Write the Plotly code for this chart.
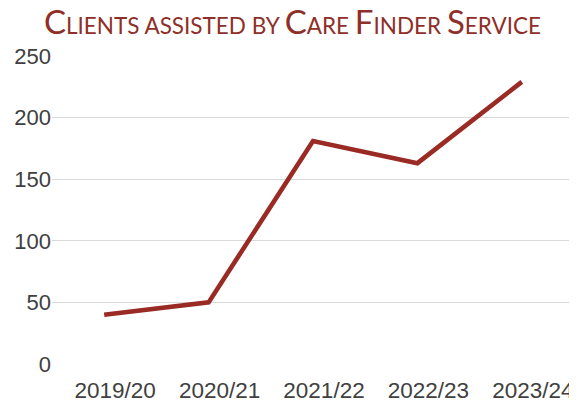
import plotly.graph_objects as go

years = ["2019/20", "2020/21", "2021/22", "2022/23", "2023/24"]
clients = [40, 50, 181, 163, 229]
y_ticks = [0, 50, 100, 150, 200, 250]

TITLE_COLOR = "#8E2F29"
LINE_COLOR = "#9A2A24"

# the page body adds an 8px margin; compensate so the figure fills the window
PAGE_OFFSET = 8
W, H = 577 - PAGE_OFFSET, 405 - PAGE_OFFSET

def small_caps(text, big=33):
    out = []
    for word in text.split(" "):
        first, rest = word[0], word[1:]
        if first.isupper():
            out.append(f'<span style="font-size:{big}px">{first}</span>{rest.upper()}')
        else:
            out.append(word.upper())
    return " ".join(out)

title_text = small_caps("Clients assisted by Care Finder Service")

fig = go.Figure(
    go.Scatter(
        x=years,
        y=clients,
        mode="lines",
        line=dict(color=LINE_COLOR, width=4.6),
        hoverinfo="skip",
    )
)

fig.update_layout(
    width=W,
    height=H,
    margin=dict(l=52 - PAGE_OFFSET, r=3, t=56 - PAGE_OFFSET, b=41),
    paper_bgcolor="white",
    plot_bgcolor="white",
    showlegend=False,
    title=dict(
        text=title_text,
        font=dict(family="Lato", size=22.5, color=TITLE_COLOR),
        x=0.5,
        xanchor="center",
        xref="container",
        y=1 - 18 / H,
        yanchor="middle",
        yref="container",
    ),
)

fig.update_xaxes(
    type="category",
    range=[-0.5, 4.5],
    showgrid=False,
    showline=False,
    zeroline=False,
    ticks="",
    tickfont=dict(family="Liberation Sans", size=22.5, color="#404040"),
    ticklabelshift=11,
    ticklabelstandoff=10,
    automargin=False,
)
fig.update_yaxes(
    range=[0, 250],
    tickvals=y_ticks,
    showgrid=True,
    gridcolor="#D9D9D9",
    gridwidth=1,
    showline=False,
    zeroline=False,
    ticks="",
    tickfont=dict(family="Liberation Sans", size=22, color="#404040"),
    automargin=False,
)

fig.write_html("out.html")
